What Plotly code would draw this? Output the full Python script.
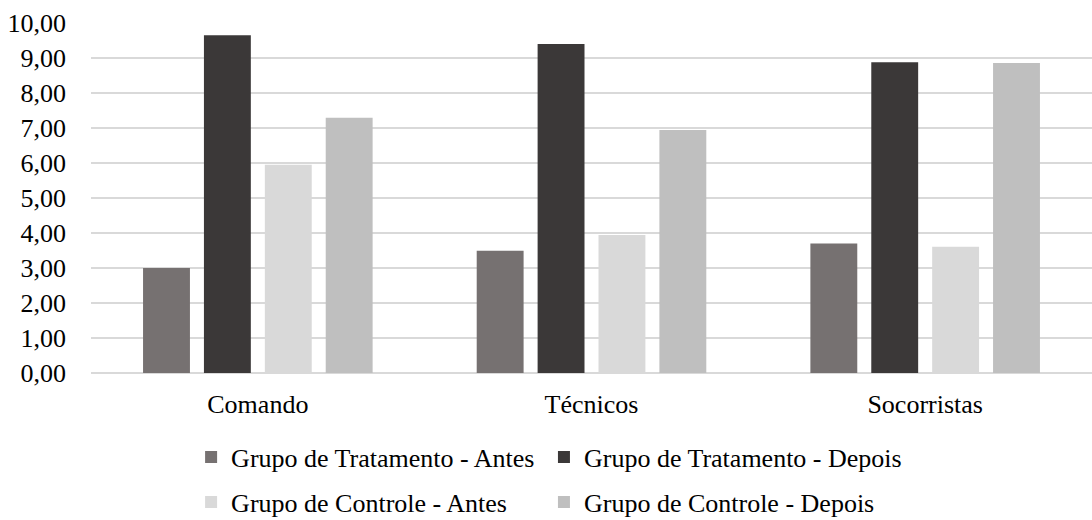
import plotly.graph_objects as go

# Average scores per team, before and after, for treatment and control groups
categories = ["Comando", "Técnicos", "Socorristas"]
trat_antes = [3.00, 3.49, 3.70]
trat_depois = [9.65, 9.40, 8.88]
ctrl_antes = [5.95, 3.94, 3.61]
ctrl_depois = [7.29, 6.94, 8.86]

series_names = [
    "Grupo de Tratamento - Antes",
    "Grupo de Tratamento - Depois",
    "Grupo de Controle - Antes",
    "Grupo de Controle - Depois",
]
series_values = [trat_antes, trat_depois, ctrl_antes, ctrl_depois]
series_colors = ["#767171", "#3B3838", "#D9D9D9", "#BFBFBF"]

FONT = "Liberation Serif"
FONT_SIZE = 26

# one single-entry legend per series, laid out as a 2 x 2 grid under the axis
legend_ids = ["legend", "legend2", "legend3", "legend4"]
legend_cols = [0.100, 0.4525, 0.100, 0.4525]
legend_rows = [-0.240, -0.240, -0.369, -0.369]

fig = go.Figure()
for name, vals, color, lg in zip(series_names, series_values, series_colors, legend_ids):
    fig.add_trace(go.Bar(
        x=categories,
        y=vals,
        name=name,
        marker=dict(color=color, line=dict(width=0)),
        legend=lg,
    ))

legend_layout = {}
for lg, lx, ly in zip(legend_ids, legend_cols, legend_rows):
    legend_layout[lg] = dict(
        orientation="h",
        xanchor="left",
        yanchor="middle",
        x=lx,
        y=ly,
        font=dict(family=FONT, size=FONT_SIZE, color="#000000"),
        bgcolor="rgba(0,0,0,0)",
        itemclick=False,
        itemdoubleclick=False,
    )

fig.update_layout(
    width=1092,
    height=520,
    margin=dict(l=91, r=0, t=23, b=147, autoexpand=False),
    paper_bgcolor="#FFFFFF",
    plot_bgcolor="#FFFFFF",
    barmode="group",
    bargap=0.27,
    bargroupgap=0.23,
    separators=",.",
    font=dict(family=FONT, size=FONT_SIZE, color="#000000"),
    showlegend=True,
    xaxis=dict(
        showgrid=False,
        showline=False,
        ticks="",
        tickfont=dict(family=FONT, size=FONT_SIZE, color="#000000"),
        ticklabelstandoff=13,
    ),
    yaxis=dict(
        range=[0, 10],
        dtick=1,
        tickformat=".2f",
        showgrid=True,
        gridcolor="#D9D9D9",
        gridwidth=1.5,
        zeroline=True,
        zerolinecolor="#D9D9D9",
        zerolinewidth=1.5,
        showline=False,
        ticks="",
        tickfont=dict(family=FONT, size=FONT_SIZE, color="#000000"),
        ticklabelstandoff=24,
    ),
    **legend_layout,
)

fig.write_html("out.html")
